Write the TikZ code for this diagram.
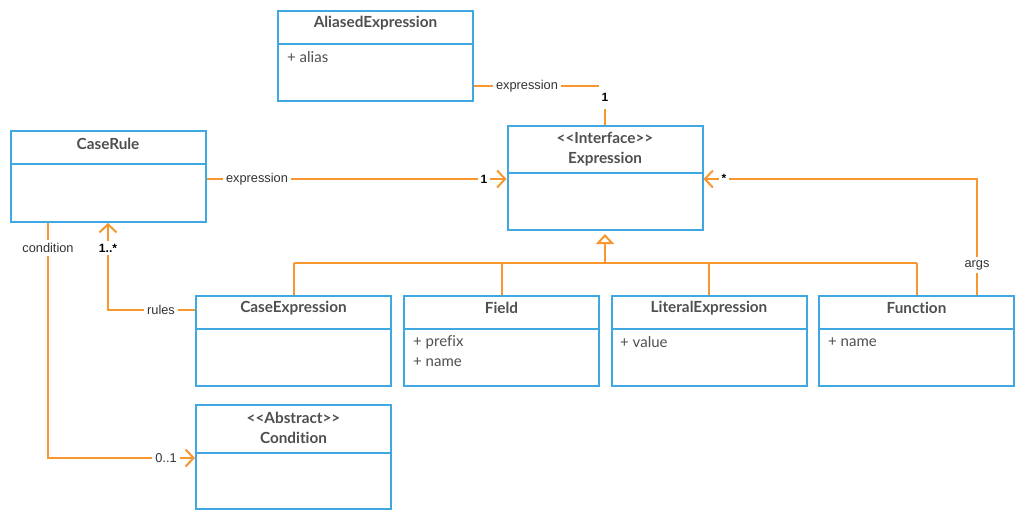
\documentclass[tikz,border=0pt]{standalone}
\usepackage{fontspec}
\setmainfont{Lato}[Ligatures={NoCommon}]
\newfontfamily\labelfont{Liberation Sans}
\usetikzlibrary{arrows.meta,calc}
\definecolor{umlblue}{HTML}{3FA7E1}
\definecolor{umlorange}{HTML}{F8962F}
\definecolor{umltext}{HTML}{4F4F4F}
\definecolor{lbltext}{HTML}{333333}
\tikzset{
  umlbox/.style={draw=umlblue, line width=2pt, rectangle, inner sep=0pt, minimum width=195pt},
  divider/.style={draw=umlblue, line width=2pt},
  hdr/.style={font=\fontsize{15.3}{20}\selectfont\bfseries, text=umltext, align=center, inner sep=0pt},
  attr/.style={font=\fontsize{15}{20}\selectfont, text=umltext, anchor=west, inner sep=0pt, align=left},
  conn/.style={draw=umlorange, line width=2pt},
  assoc/.style={conn, -{Straight Barb[length=8pt,width=17pt,line width=2pt]}},
  gen/.style={conn, -{Triangle[open,length=10pt,width=18pt,line width=2pt,fill=white]}},
  lbl/.style={font=\labelfont\fontsize{12.8}{14}\selectfont, text=lbltext, fill=white, inner sep=3pt},
  mult/.style={font=\labelfont\fontsize{12}{13}\selectfont\bfseries, text=black, fill=white, inner sep=2.5pt},
}
\begin{document}
\begin{tikzpicture}[x=1pt,y=-1pt]
\useasboundingbox[fill=white] (0,0) rectangle (1024,522);

% boxes
\node[umlbox, minimum height=90pt] (alias) at (375.5,56) {};
\draw[divider] (278,44) -- (473,44);
\node[hdr] (aliasT) at (375.5,23) {AliasedExpression};
\node[attr] (aliasA) at (287,57) {+ alias};

\node[umlbox, minimum height=104pt] (expr) at (605,178) {};
\draw[divider] (508,173) -- (702,173);
\node[hdr] (exprT) at (605,149) {{<}{<}Interface{>}{>}\\Expression};

\node[umlbox, minimum height=91pt] (caserule) at (108,176.5) {};
\draw[divider] (11,164) -- (205,164);
\node[hdr] (caseruleT) at (108,144) {CaseRule};

\node[umlbox, minimum height=90pt] (caseexpr) at (293.5,341) {};
\draw[divider] (196,329) -- (391,329);
\node[hdr] (caseexprT) at (293.5,308) {CaseExpression};

\node[umlbox, minimum height=104pt] (cond) at (293.5,457) {};
\draw[divider] (196,453) -- (391,453);
\node[hdr] (condT) at (293.5,428) {{<}{<}Abstract{>}{>}\\Condition};

\node[umlbox, minimum height=90pt] (field) at (501.5,341) {};
\draw[divider] (404,329) -- (599,329);
\node[hdr] (fieldT) at (501.5,308) {Field};
\node[attr] (fieldA) at (413,351) {+ prefix\\+ name};

\node[umlbox, minimum height=90pt] (literal) at (709,341) {};
\draw[divider] (612,329) -- (806,329);
\node[hdr] (literalT) at (709,308) {LiteralExpression};
\node[attr] (literalA) at (620,342) {+ value};

\node[umlbox, minimum height=90pt] (func) at (916.5,341) {};
\draw[divider] (819,329) -- (1014,329);
\node[hdr] (funcT) at (916.5,308) {Function};
\node[attr] (funcA) at (828,342) {+ name};

% junction for generalization
\coordinate (jn) at (605,263);
\coordinate (jl) at (293.5,263);
\coordinate (jr) at (916.5,263);

% generalization
\draw[gen, shorten >=3pt] (jn) -- (expr.south);
\draw[conn] (jl) -- (jr);
\draw[conn] (caseexpr.north) -- (jl);
\draw[conn] (field.north) -- (field.north |- jn);
\draw[conn] (literal.north) -- (literal.north |- jn);
\draw[conn] (func.north) -- (jr);

% AliasedExpression -> Expression
\draw[conn] (alias.east |- 0,86) -- (expr.north |- 0,86) -- (expr.north);
\node[lbl] (l1) at (527,86) {expression};
\node[mult, minimum width=12pt, minimum height=24pt] (m1) at (605,97) {1};

% CaseRule -> Expression
\draw[assoc] (caserule.east |- 0,179) -- (expr.west |- 0,179);
\node[lbl] (l2) at (257,179) {expression};
\node[mult] (m2) at (484,179) {1};

% Function -> Expression (args)
\draw[assoc] (func.north -| 977,0) -- (977,179) -- (expr.east |- 0,179);
\node[lbl] (l3) at (977,265) {args};
\node[mult] (m3) at (724,178) {*};

% CaseExpression -> CaseRule (rules)
\draw[assoc] (caseexpr.west |- 0,310) -- (108,310) -- (caserule.south);
\node[lbl] (l4) at (161,310) {rules};
\node[mult] (m4) at (108,248) {1..*};

% CaseRule -> Condition
\draw[assoc] (caserule.south -| 48,0) -- (48,458) -- (cond.west |- 0,458);
\node[lbl] (l5) at (48,248) {condition};
\node[lbl] (m5) at (166,458) {0..1};
\end{tikzpicture}
\end{document}
